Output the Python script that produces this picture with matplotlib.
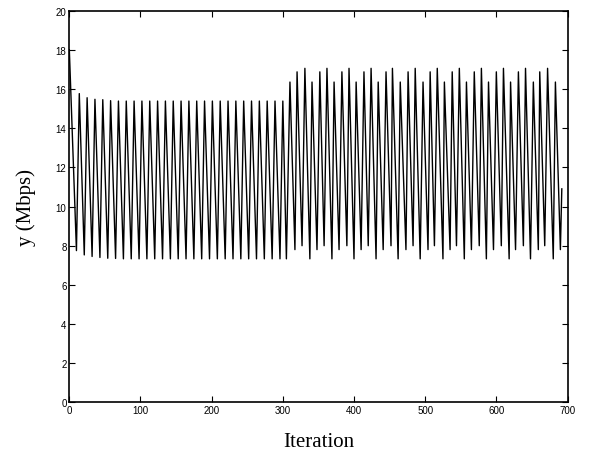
import matplotlib
matplotlib.use("Agg")
import matplotlib.pyplot as plt

# ---- data ----
start_iter = [0]
start_val = [18.0]

peak_iters_a = [14, 25, 36, 47, 58, 69, 80, 91, 102, 113, 124, 135, 146, 157, 168,
                179, 190, 201, 212, 223, 234, 245, 256, 267, 278, 289, 300]
peak_vals_a = [15.76, 15.55, 15.47, 15.45, 15.40] + [15.38] * 22
trough_iters_a = [10, 21, 32, 43, 54, 65, 76, 87, 98, 109, 120, 131, 142, 153, 164,
                  175, 186, 197, 208, 219, 230, 241, 252, 263, 274, 285, 296]
trough_vals_a = [7.75, 7.53, 7.45, 7.40, 7.36, 7.35] + [7.33] * 21

trough_iters_b = [305, 317, 327, 338, 348, 358, 369, 379, 390, 400, 410, 420, 431, 441,
                  452, 462, 473, 483, 493, 504, 513, 525, 535, 544, 555, 565, 576, 586,
                  596, 607, 618, 627, 638, 648, 659, 668, 680, 690]
trough_vals_b = [7.33, 7.8, 8.0, 7.33, 7.8, 8.0, 7.33, 7.8, 8.0, 7.33, 7.8, 8.0, 7.33, 7.8,
                 8.0, 7.33, 7.8, 8.0, 7.33, 7.8, 8.0, 7.33, 7.8, 8.0, 7.33, 7.8, 8.0, 7.33,
                 7.8, 8.0, 7.33, 7.8, 8.0, 7.33, 7.8, 8.0, 7.33, 7.8]
peak_iters_b = [310, 320, 331, 341, 352, 362, 372, 383, 393, 403, 414, 424, 434, 445,
                454, 465, 476, 486, 497, 507, 517, 527, 538, 548, 558, 569, 579, 589,
                600, 610, 620, 631, 641, 652, 661, 672, 683]
peak_vals_b = [16.35, 16.87, 17.05, 16.35, 16.87, 17.05, 16.35, 16.87, 17.05, 16.35,
               16.87, 17.05, 16.35, 16.87, 17.05, 16.35, 16.87, 17.05, 16.35, 16.87,
               17.05, 16.35, 16.87, 17.05, 16.35, 16.87, 17.05, 16.35, 16.87, 17.05,
               16.35, 16.87, 17.05, 16.35, 16.87, 17.05, 16.35]
end_iter = [692]
end_val = [10.9]

x_ticks = [0, 100, 200, 300, 400, 500, 600, 700]
y_ticks = [0, 2, 4, 6, 8, 10, 12, 14, 16, 18, 20]

# ---- assemble the series ----
pairs = list(zip(start_iter, start_val))
pairs += list(zip(peak_iters_a, peak_vals_a)) + list(zip(trough_iters_a, trough_vals_a))
pairs += list(zip(peak_iters_b, peak_vals_b)) + list(zip(trough_iters_b, trough_vals_b))
pairs += list(zip(end_iter, end_val))
pairs.sort(key=lambda p: p[0])
xs = [p[0] for p in pairs]
ys = [p[1] for p in pairs]

fig = plt.figure(figsize=(5.89, 4.64), dpi=100)
ax = fig.add_axes([0.1177, 0.1304, 0.8458, 0.8448])
ax.plot(xs, ys, color="black", linewidth=1.0)

ax.set_xlim(0, 700)
ax.set_ylim(0, 20)
ax.set_xticks(x_ticks)
ax.set_yticks(y_ticks)
ax.tick_params(direction="in", top=True, right=True, length=4, width=0.8,
               labelsize=7, pad=2)
for lab in ax.get_xticklabels() + ax.get_yticklabels():
    lab.set_fontfamily("Liberation Sans")
for s in ax.spines.values():
    s.set_linewidth(1.2)

ax.set_xlabel("Iteration", fontsize=15, family="Liberation Serif", labelpad=12)
ax.set_ylabel("y (Mbps)", fontsize=15, family="Liberation Serif", labelpad=14)

fig.savefig("out.png", dpi=100)
